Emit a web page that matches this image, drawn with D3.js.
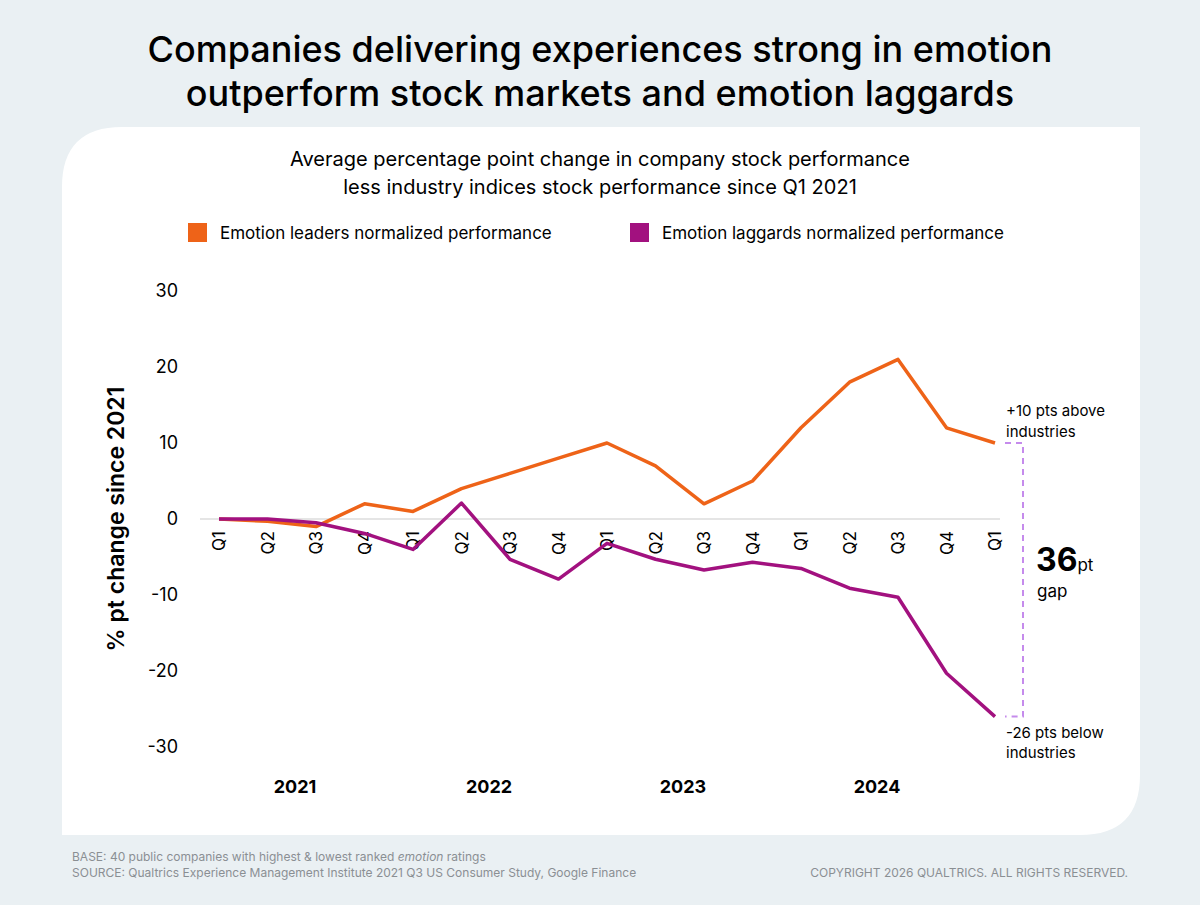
<!DOCTYPE html>
<html><head><meta charset="utf-8">
<script src="https://cdn.jsdelivr.net/npm/d3@7"></script>
<style>body{margin:0;background:#eaf0f3;font-family:Inter,"Noto Sans",sans-serif}</style>
</head><body><svg id="c" width="1200" height="905"></svg>
<script>
const quarters=["Q1","Q2","Q3","Q4","Q1","Q2","Q3","Q4","Q1","Q2","Q3","Q4","Q1","Q2","Q3","Q4","Q1"];
const years=["2021","2022","2023","2024"];
const leaders=[0,-0.3,-1,2,1,4,6,8,10,7,2,5,12,18,21,12,10];
const laggards=[0,0,-0.5,-1.9,-4,2.1,-5.3,-7.9,-3.2,-5.3,-6.7,-5.7,-6.5,-9.1,-10.3,-20.3,-26];
const yTicks=[30,20,10,0,-10,-20,-30];
const series=[{name:"Emotion leaders normalized performance",values:leaders,color:"#ee6318"},
{name:"Emotion laggards normalized performance",values:laggards,color:"#a2117f"}];

const svg=d3.select("#c");
svg.append("rect").attr("width",1200).attr("height",905).attr("fill","#eaf0f3");
svg.append("path").attr("fill","#fff").attr("d","M62,835 L62,187 Q62,127 122,127 L1140,127 L1140,775 Q1140,835 1080,835 Z");
svg.append("text").attr("x",600).attr("y",62).attr("text-anchor","middle").attr("font-size",36).attr("font-weight",500).text("Companies delivering experiences strong in emotion");
svg.append("text").attr("x",600).attr("y",106).attr("text-anchor","middle").attr("font-size",36).attr("font-weight",500).text("outperform stock markets and emotion laggards");
svg.append("text").attr("x",600).attr("y",166).attr("text-anchor","middle").attr("font-size",20).text("Average percentage point change in company stock performance");
svg.append("text").attr("x",600).attr("y",194).attr("text-anchor","middle").attr("font-size",20).text("less industry indices stock performance since Q1 2021");
const lx=[188,630];
series.forEach((s,i)=>{svg.append("rect").attr("x",lx[i]).attr("y",223).attr("width",19).attr("height",19).attr("fill",s.color);
svg.append("text").attr("x",lx[i]+32).attr("y",239).attr("font-size",17).text(s.name);});

const x=d3.scaleLinear().domain([0,quarters.length-1]).range([219,995]);
const y=d3.scaleLinear().domain([-30,30]).range([747,291]);
svg.append("line").attr("x1",200).attr("x2",1000).attr("y1",y(0)).attr("y2",y(0)).attr("stroke","#dcdcdc").attr("stroke-width",1.5);
const ya=svg.append("g").attr("transform","translate(178,0)").call(d3.axisLeft(y).tickValues(yTicks).tickSize(0).tickPadding(0).tickFormat(d=>String(d)));
ya.select(".domain").remove();
ya.selectAll("text").attr("font-size",18).attr("font-family","Inter,sans-serif").attr("fill","#000");
const xa=svg.append("g").attr("transform",`translate(0,${y(0)})`).call(d3.axisBottom(x).tickValues(d3.range(quarters.length)).tickFormat(i=>quarters[i]).tickSize(0));
xa.select(".domain").remove();
xa.selectAll("text").attr("font-size",17).attr("font-family","Inter,sans-serif").attr("fill","#000")
 .attr("transform","rotate(-90)").attr("text-anchor","end").attr("dx","-8").attr("dy","0.35em").attr("y",0).attr("x",-4);
svg.append("text").attr("transform","translate(124,519) rotate(-90)").attr("text-anchor","middle").attr("font-size",23).attr("font-weight",600).text("% pt change  since 2021");
years.forEach((yr,i)=>svg.append("text").attr("x",x(i*4+2)-21).attr("y",793).attr("text-anchor","middle").attr("font-size",18).attr("font-weight",700).text(yr));
const line=d3.line().x((d,i)=>x(i)).y(d=>y(d));
series.forEach(s=>svg.append("path").attr("d",line(s.values)).attr("fill","none").attr("stroke",s.color).attr("stroke-width",3.5).attr("stroke-linejoin","round"));
const last=quarters.length-1;
svg.append("path").attr("d",`M1005,${y(leaders[last])}H1023V${y(laggards[last])}H1005`).attr("fill","none").attr("stroke","#c58bec").attr("stroke-width",2).attr("stroke-dasharray","6,5");
const ann=[["+10 pts above",416],["industries",437],["-26 pts below",738],["industries",758]];
ann.forEach(a=>svg.append("text").attr("x",1006).attr("y",a[1]).attr("font-size",15).text(a[0]));
const g=svg.append("text").attr("x",1036).attr("y",571).attr("font-size",32).attr("font-weight",700).text("36");
g.append("tspan").attr("font-size",17).attr("font-weight",400).text("pt");
svg.append("text").attr("x",1037).attr("y",597).attr("font-size",17).text("gap");
const t1=svg.append("text").attr("x",72).attr("y",861).attr("font-size",12).attr("fill","#8a8f93").text("BASE: 40 public companies with highest & lowest ranked ");
t1.append("tspan").attr("font-style","italic").text("emotion");t1.append("tspan").text(" ratings");
svg.append("text").attr("x",72).attr("y",877).attr("font-size",12).attr("fill","#8a8f93").text("SOURCE: Qualtrics Experience Management Institute 2021 Q3 US Consumer Study, Google Finance");
svg.append("text").attr("x",1128).attr("y",877).attr("text-anchor","end").attr("font-size",12).attr("fill","#8a8f93").text("COPYRIGHT 2026 QUALTRICS. ALL RIGHTS RESERVED.");
</script></body></html>
